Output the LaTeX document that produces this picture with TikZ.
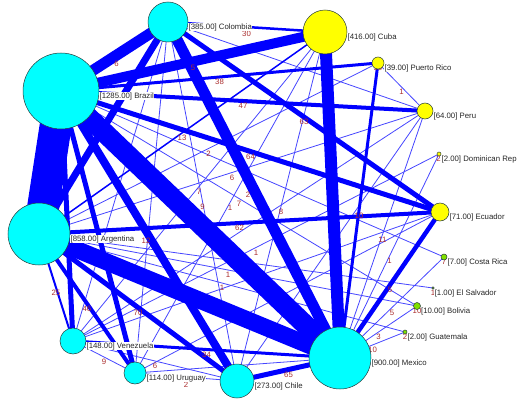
\documentclass[tikz,border=0pt]{standalone}
\usepackage{fontspec}
\setmainfont{Liberation Sans}
\pgfdeclarelayer{bgl}
\pgfdeclarelayer{edges}
\pgfdeclarelayer{elabs}
\pgfdeclarelayer{top}
\pgfsetlayers{bgl,edges,elabs,main,top}
\definecolor{ecol}{RGB}{0,0,255}
\definecolor{tcol}{RGB}{70,70,255}
\definecolor{wcol}{RGB}{170,45,45}
\definecolor{cyanN}{RGB}{0,255,255}
\definecolor{yelN}{RGB}{255,255,0}
\definecolor{grnN}{RGB}{128,224,0}
\definecolor{rimN}{RGB}{40,60,60}
\newcommand\mkcountry[6]{%
  \node[country={2*#4}, fill=#5] (#1) at (#2,#3) {};
  \begin{pgfonlayer}{top}
  \node[nlab] (#1-l) at ({#2+#4},{#3+5}) {#6};
  \end{pgfonlayer}}
\begin{document}
\begin{tikzpicture}[x=1pt,y=-1pt,
  country/.style={circle, draw=rimN, line width=0.5pt, inner sep=0pt, outer sep=0pt, minimum size={#1*1pt}},
  nlab/.style={anchor=west, inner sep=0.4pt, fill=white, font=\fontsize{7.8}{9}\selectfont, text=black!85},
  elab/.style={midway, yshift=-5pt, inner sep=0pt, font=\fontsize{7.8}{9}\selectfont, text=wcol},
  slab/.style={inner sep=0pt, font=\fontsize{7.8}{9}\selectfont, text=wcol},
  thk/.style={draw=ecol, line width=#1},
  thn/.style={draw=tcol, line width=0.8pt}]
\useasboundingbox (0,0) rectangle (527,404);
\begin{pgfonlayer}{bgl}
\fill[white] (0,0) rectangle (527,404);
\end{pgfonlayer}
% countries
\mkcountry{C}{168}{22}{20}{cyanN}{[385.00] Colombia}
\mkcountry{B}{61}{91}{38}{cyanN}{[1285.00] Brazil}
\mkcountry{Cu}{325}{32}{22}{yelN}{[416.00] Cuba}
\mkcountry{PR}{378}{63}{6}{yelN}{[39.00] Puerto Rico}
\mkcountry{Pe}{425}{111}{8}{yelN}{[64.00] Peru}
\mkcountry{DR}{439}{154}{2}{yelN}{[2.00] Dominican Rep}
\mkcountry{E}{440}{212}{9}{yelN}{[71.00] Ecuador}
\mkcountry{CR}{444}{257}{3}{grnN}{[7.00] Costa Rica}
\mkcountry{ES}{433}{288}{1.2}{grnN}{[1.00] El Salvador}
\mkcountry{Bo}{417}{306}{3.5}{grnN}{[10.00] Bolivia}
\mkcountry{G}{405}{332}{2}{grnN}{[2.00] Guatemala}
\mkcountry{M}{340}{358}{31}{cyanN}{[900.00] Mexico}
\mkcountry{Ch}{237}{381}{17}{cyanN}{[273.00] Chile}
\mkcountry{U}{135}{373}{11}{cyanN}{[114.00] Uruguay}
\mkcountry{V}{73}{341}{13}{cyanN}{[148.00] Venezuela}
\mkcountry{A}{39}{234}{31}{cyanN}{[858.00] Argentina}
% edges
\begin{pgfonlayer}{edges}
% thin edges
\draw[thn] (A.center) -- (PR.center);
\draw[thn] (A.center) -- (Pe.center);
\draw[thn] (V.center) -- (Cu.center);
\draw[thn] (C.center) -- (Ch.center);
\draw[thn] (U.center) -- (Cu.center);
\draw[thn] (B.center) -- (Bo.center);
\draw[thn] (V.center) -- (DR.center);
\draw[thn] (A.center) -- (Bo.center);
\draw[thn] (A.center) -- (G.center);
\draw[thn] (Cu.center) -- (Ch.center);
\draw[thn] (PR.center) -- (Pe.center);
\draw[thn] (DR.center) -- (M.center);
\draw[thn] (CR.center) -- (M.center);
\draw[thn] (Bo.center) -- (M.center);
\draw[thn] (G.center) -- (M.center);
\draw[thn] (V.center) -- (Ch.center);
\draw[thn] (V.center) -- (U.center);
\draw[thn] (U.center) -- (Ch.center);
\draw[thn] (Pe.center) -- (M.center);
\draw[thn] (C.center) -- (Pe.center);
\draw[thn] (C.center) -- (V.center);
\draw[thn] (C.center) -- (U.center);
\draw[thn] (V.center) -- (Pe.center);
\draw[thn] (V.center) -- (E.center);
\draw[thn] (U.center) -- (E.center);
\draw[thn] (Pe.center) -- (Ch.center);
\draw[thn] (A.center) -- (ES.center);
\draw[thn] (B.center) -- (CR.center);
\draw[thn] (U.center) -- (M.center);
\draw[thk=1.5pt] (A.center) -- (Cu.center);
% medium and thick edges
\draw[thk=3pt] (PR.center) -- (M.center);
\draw[thk=2pt] (A.center) -- (V.center);
\draw[thk=3pt] (V.center) -- (M.center);
\draw[thk=2.5pt] (C.center) -- (Cu.center);
\draw[thk=3pt] (B.center) -- (PR.center);
\draw[thk=4pt] (B.center) -- (Pe.center);
\draw[thk=4.5pt] (E.center) -- (M.center);
\draw[thk=5pt] (Ch.center) -- (M.center);
\draw[thk=4pt] (A.center) -- (U.center);
\draw[thk=5pt] (B.center) -- (U.center);
\draw[thk=5pt] (B.center) -- (V.center);
\draw[thk=5pt] (A.center) -- (Ch.center);
\draw[thk=4pt] (A.center) -- (E.center);
\draw[thk=5pt] (C.center) -- (E.center);
\draw[thk=5pt] (B.center) -- (E.center);
\draw[thk=7pt] (C.center) -- (A.center);
\draw[thk=8pt] (B.center) -- (Ch.center);
\draw[thk=10pt] (B.center) -- (Cu.center);
\draw[thk=11pt] (B.center) -- (C.center);
\draw[thk=11pt] (C.center) -- (M.center);
\draw[thk=12pt] (Cu.center) -- (M.center);
\draw[thk=17pt] (A.center) -- (M.center);
\draw[thk=20pt] (B.center) -- (M.center);
\draw[thk=32pt] (B.center) -- (A.center);
\end{pgfonlayer}
% edge labels
\begin{pgfonlayer}{elabs}
\node[slab] (PR-s) at (378,68) {39};
\node[slab] (DR-s) at (438.5,159) {2};
\node[slab] (CR-s) at (444,262) {7};
\node[slab] (ES-s) at (433,293) {1};
\node[slab] (Bo-s) at (417,311) {10};
\node[slab] (G-s) at (405,337) {2};
\path (A.center) -- (PR.center) node[elab] (w1) {2};
\path (A.center) -- (Pe.center) node[elab] (w2) {6};
\path (V.center) -- (Cu.center) node[elab] (w3) {7};
\path (C.center) -- (Ch.center) node[elab] (w4) {9};
\path (U.center) -- (Cu.center) node[elab] (w5) {1};
\path (B.center) -- (Bo.center) node[elab] (w6) {7};
\path (V.center) -- (DR.center) node[elab] (w7) {1};
\path (A.center) -- (Bo.center) node[elab] (w8) {1};
\path (A.center) -- (G.center) node[elab] (w9) {1};
\path (Cu.center) -- (Ch.center) node[elab] (w10) {8};
\path (PR.center) -- (Pe.center) node[elab] (w11) {1};
\path (DR.center) -- (M.center) node[elab] (w12) {1};
\path (CR.center) -- (M.center) node[elab] (w13) {5};
\path (Bo.center) -- (M.center) node[elab] (w14) {3};
\path (G.center) -- (M.center) node[elab] (w15) {10};
\path (V.center) -- (Ch.center) node[elab] (w16) {6};
\path (V.center) -- (U.center) node[elab] (w17) {9};
\path (U.center) -- (Ch.center) node[elab, yshift=-2.5pt] (w18) {2};
\path (Pe.center) -- (M.center) node[elab] (w19) {11};
\path (A.center) -- (Cu.center) node[elab] (w20) {13};
\path (PR.center) -- (M.center) node[elab] (w21) {10};
\path (A.center) -- (V.center) node[elab] (w22) {25};
\path (V.center) -- (M.center) node[elab] (w23) {34};
\path (C.center) -- (Cu.center) node[elab, yshift=-1.5pt] (w24) {30};
\path (B.center) -- (PR.center) node[elab] (w25) {38};
\path (B.center) -- (Pe.center) node[elab] (w26) {47};
\path (E.center) -- (M.center) node[elab] (w27) {5};
\path (Ch.center) -- (M.center) node[elab] (w28) {65};
\path (A.center) -- (U.center) node[elab] (w29) {46};
\path (A.center) -- (Ch.center) node[elab] (w30) {70};
\path (A.center) -- (E.center) node[elab] (w31) {62};
\path (C.center) -- (E.center) node[elab] (w32) {63};
\path (B.center) -- (E.center) node[elab] (w33) {64};
\path (B.center) -- (Ch.center) node[elab, xshift=-3pt] (w34) {12};
\path (B.center) -- (Cu.center) node[elab, yshift=-1.5pt] (w35) {5};
\path (B.center) -- (C.center) node[elab, xshift=2pt, yshift=-2pt] (w36) {6};
\path (C.center) -- (M.center) node[elab, xshift=-6pt] (w37) {2};
\end{pgfonlayer}
\end{tikzpicture}
\end{document}
